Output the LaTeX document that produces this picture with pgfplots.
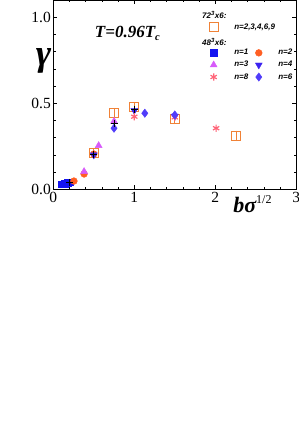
\documentclass[border=0pt]{standalone}
\usepackage{pgfplots}
\pgfplotsset{compat=1.18}
\usepackage{fontspec}
\setmainfont{Liberation Serif}
\newfontfamily\legfont{Liberation Sans}
\definecolor{sqor}{RGB}{240,130,55}
\definecolor{cblue}{RGB}{20,20,240}
\definecolor{corange}{RGB}{255,95,35}
\definecolor{cmag}{RGB}{215,90,250}
\definecolor{cdblue}{RGB}{60,35,240}
\definecolor{cpink}{RGB}{255,100,120}
\definecolor{cdia}{RGB}{80,60,250}
\begin{document}
\begin{tikzpicture}
\useasboundingbox (0pt,0pt) rectangle (298pt,448pt);
\begin{axis}[
 at={(53.3pt,258.7pt)}, anchor=south west,
 scale only axis, width=243pt, height=189.3pt,
 xmin=0, xmax=3, ymin=0, ymax=1.1,
 xtick={0,1,2,3}, ytick={0,0.5,1.0},
 yticklabels={0.0,0.5,1.0},
 minor x tick num=4, minor y tick num=4,
 tick align=inside,
 major tick length=4pt, minor tick length=2.5pt,
 /pgf/number format/assume math mode=true,
 ticklabel style={font=\fontsize{15.5}{17}\selectfont},
 xticklabel style={yshift=1pt},
 yticklabel style={xshift=1pt},
 axis line style={line width=0.8pt},
 every tick/.style={line width=0.6pt},
 clip=false,
 legend columns=2,
 legend cell align=left,
 legend style={draw=none, fill=none, at={(rel axis cs:0.624,0.89)}, anchor=north west,
   font=\legfont\bfseries\itshape\fontsize{8}{9.5}\selectfont,
   row sep=1pt, inner sep=0pt,
   /tikz/every odd column/.append style={column sep=14pt}},
 legend image code/.code={\draw[mark repeat=2,mark phase=2] plot coordinates {(0cm,0cm) (0.3cm,0cm) (0.6cm,0cm)};},
]
% 72^3 x 6 open squares
\addplot[only marks, mark=square, mark size=4.6pt, color=sqor, line width=1.1pt,
  mark options={solid},
  error bars/.cd, y dir=both, y explicit, error mark=-, error bar style={line width=0.9pt},
  error mark options={mark size=3.2pt, line width=0.9pt}]
 coordinates {
 (0.5,0.21) +- (0,0.012)
 (0.75,0.442) +- (0,0.012)
 (1.0,0.477) +- (0,0.012)
 (1.5,0.409) +- (0,0.012)
 (2.255,0.31) +- (0,0.012)
 };
\addlegendentry{\makebox[0pt][l]{n=2,3,4,6,9}}
\addlegendimage{empty legend}
\addlegendentry{\strut}
% spacer row for header 48^3x6
\addlegendimage{empty legend}
\addlegendentry{\strut}
\addlegendimage{empty legend}
\addlegendentry{\strut}
% n=1
\addplot[only marks, mark=square*, mark size=3.2pt, color=cblue]
 coordinates {(0.10,0.028) (0.14,0.032) (0.18,0.038) (0.21,0.042)};
\addlegendentry{n=1}
% n=2
\addplot[only marks, mark=*, mark size=3.4pt, color=corange]
 coordinates {(0.255,0.048) (0.38,0.089) (0.5,0.205)};
\addlegendentry{n=2}
% n=3
\addplot[only marks, mark=triangle*, mark size=4pt, color=cmag]
 coordinates {(0.38,0.103) (0.56,0.254) (0.75,0.395)};
\addlegendentry{n=3}
% n=4
\addplot[only marks, mark=triangle*, mark size=4pt, color=cdblue, mark options={rotate=180}]
 coordinates {(0.5,0.2) (1.0,0.458) (1.5,0.425)};
\addlegendentry{n=4}
% n=8
\addplot[only marks, mark=asterisk, mark size=3.6pt, color=cpink, line width=1.2pt]
 coordinates {(1.0,0.422) (1.5,0.418) (2.01,0.355)};
\addlegendentry{n=8}
% n=6
\addplot[only marks, mark=diamond*, mark size=4.2pt, color=cdia]
 coordinates {(0.75,0.355) (1.13,0.442) (1.5,0.432)};
\addlegendentry{n=6}
% black error crosses
\addplot[only marks, mark=+, mark size=3.5pt, color=black, line width=1pt, forget plot]
 coordinates {(0.2,0.042) (0.5,0.203) (0.75,0.385) (1.0,0.465)};
% texts
\node[anchor=west, inner sep=0pt, font=\legfont\bfseries\itshape\fontsize{8}{9.5}\selectfont] at (rel axis cs:0.612,0.921) {72\textsuperscript{3}x6:};
\node[anchor=west, inner sep=0pt, font=\legfont\bfseries\itshape\fontsize{8}{9.5}\selectfont] at (rel axis cs:0.612,0.778) {48\textsuperscript{3}x6:};
\node[font=\bfseries\itshape\fontsize{17}{19}\selectfont] at (rel axis cs:0.305,0.825) {T=0.96T\raisebox{-0.35ex}{\fontsize{10.5}{12}\selectfont c}};
\node[font=\bfseries\itshape\fontsize{37}{40}\selectfont] at (rel axis cs:-0.04,0.68) {γ};
\node[anchor=base west, inner sep=0pt] at (rel axis cs:0.74,-0.125) {\bfseries\itshape\fontsize{22}{24}\selectfont b\fontspec{Liberation Serif}σ\raisebox{0.95ex}{\normalfont\fontsize{12}{13}\selectfont 1/2}};
\end{axis}
\end{tikzpicture}
\end{document}
